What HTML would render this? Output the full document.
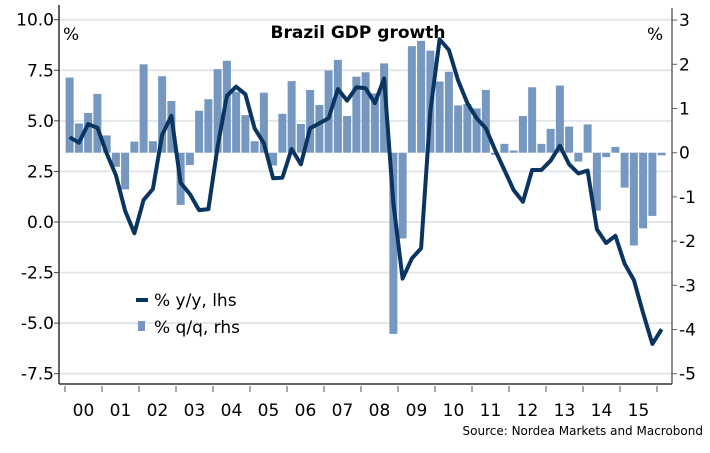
<!DOCTYPE html>
<html><head><meta charset="utf-8">
<style>
body{margin:0;background:#fff;}
svg text{font-family:"DejaVu Sans","Liberation Sans",sans-serif;}
</style></head>
<body>
<svg id="chart" width="710" height="448" viewBox="0 0 710 448" xmlns="http://www.w3.org/2000/svg">
<g id="grid"></g>
<g id="bars"></g>
<g id="axes"></g>
<path id="line" fill="none" stroke="#0b3561" stroke-width="4" stroke-linejoin="round"/>
<text x="358" y="38" font-size="17" font-weight="bold" text-anchor="middle" fill="#000">Brazil GDP growth</text>
<text x="63" y="40" font-size="17" fill="#000">%</text>
<text x="647" y="40" font-size="17" fill="#000">%</text>
<g>
<rect x="136" y="298" width="12" height="4" fill="#0b3561"/>
<text x="154" y="306" font-size="17" fill="#000">% y/y, lhs</text>
<rect x="138" y="321" width="7" height="10" fill="#7697bf"/>
<text x="154" y="333" font-size="17" fill="#000">% q/q, rhs</text>
</g>
<text x="703" y="435" font-size="12" text-anchor="end" fill="#000" font-family="Liberation Sans, sans-serif">Source: Nordea Markets and Macrobond</text>
</svg>
<script>
const years = ["00","01","02","03","04","05","06","07","08","09","10","11","12","13","14","15"];
const leftTicks = ["10.0","7.5","5.0","2.5","0.0","-2.5","-5.0","-7.5"];
const leftTickValues = [10,7.5,5,2.5,0,-2.5,-5,-7.5];
const rightTicks = ["3","2","1","0","-1","-2","-3","-4","-5"];
const rightTickValues = [3,2,1,0,-1,-2,-3,-4,-5];
const qqValues = [1.70,0.66,0.90,1.33, 0.39,-0.32,-0.83,0.25, 2.00,0.26,1.73,1.17, -1.18,-0.28,0.95,1.21,
 1.89,2.08,1.38,0.85, 0.26,1.36,-0.29,0.88, 1.62,0.65,1.42,1.08, 1.86,2.10,0.83,1.72,
 1.82,1.34,2.02,-4.10, -1.94,2.41,2.53,2.31, 1.61,1.83,1.07,1.10, 1.00,1.42,-0.05,0.20,
 0.05,0.83,1.48,0.20, 0.54,1.52,0.59,-0.20, 0.64,-1.31,-0.10,0.13, -0.79,-2.10,-1.71,-1.43, -0.06];
const yyValues = [4.19,3.92,4.84,4.66, 3.40,2.32,0.56,-0.56, 1.09,1.63,4.30,5.25, 1.94,1.38,0.59,0.64,
 3.72,6.24,6.69,6.31, 4.63,3.89,2.16,2.19, 3.61,2.85,4.63,4.88, 5.13,6.57,6.00,6.66,
 6.61,5.87,7.10,0.90, -2.80,-1.80,-1.30,5.50, 9.03,8.50,7.00,5.87, 5.13,4.63,3.56,2.57,
 1.58,1.00,2.57,2.57, 3.03,3.77,2.85,2.40, 2.54,-0.36,-1.04,-0.68, -2.06,-2.87,-4.50,-6.03, -5.30];

const NS="http://www.w3.org/2000/svg";
const X0=59, X1=672, YB=384, yearStart=65, yearW=37.0, qW=yearW/4;
const xQ=i=>yearStart+qW*(i+0.5);
const yL=v=>222-v*20.23;
const yR=v=>152.7-v*44.2;
function mk(tag,attrs,parent){const e=document.createElementNS(NS,tag);for(const k in attrs)e.setAttribute(k,attrs[k]);parent.appendChild(e);return e;}
const grid=document.getElementById('grid'), bars=document.getElementById('bars'), axes=document.getElementById('axes');
leftTickValues.forEach((v,i)=>{
  const g=mk('line',{x1:X0,x2:X1,y1:yL(v),y2:yL(v),stroke:'#e3e6ea','stroke-width':2},grid);
  
  
  const t=mk('line',{x1:X0-5,x2:X0,y1:yL(v),y2:yL(v),stroke:'#444'},axes);
  
  
  const l=mk('text',{x:54,y:yL(v)+6,'font-size':17,'text-anchor':'end',fill:'#000'},axes);
  l.textContent=leftTicks[i];
  
  
});
rightTickValues.forEach((v,i)=>{
  const t=mk('line',{x1:X1,x2:X1+5,y1:yR(v),y2:yR(v),stroke:'#666'},axes);
  
  
  const l=mk('text',{x:679,y:yR(v)+6,'font-size':17,fill:'#000'},axes);
  l.textContent=rightTicks[i];
  
  
});
qqValues.forEach((v,i)=>{
  const y0=yR(0), y1=yR(v);
  const b=mk('rect',{x:xQ(i)-4,y:Math.min(y0,y1),width:8,height:Math.abs(y1-y0),fill:'#7697bf'},bars);
  
  
});
mk('line',{x1:X0,x2:X0,y1:5,y2:YB,stroke:'#333','stroke-width':1.5},axes);
mk('line',{x1:X1,x2:X1,y1:8,y2:YB,stroke:'#666','stroke-width':1.5},axes);
mk('line',{x1:X0,x2:X1,y1:YB,y2:YB,stroke:'#333','stroke-width':1.5},axes);
for(let k=0;k<=years.length;k++){
  const x=yearStart+k*yearW;
  const t=mk('line',{x1:x,x2:x,y1:YB+2,y2:YB+8,stroke:'#555'},axes);
  
  
}
years.forEach((y,k)=>{
  const l=mk('text',{x:yearStart+(k+0.5)*yearW,y:416,'font-size':17,'text-anchor':'middle',fill:'#000'},axes);
  l.textContent=y;
  
  
});
document.getElementById('line').setAttribute('d',yyValues.map((v,i)=>(i?'L':'M')+xQ(i).toFixed(1)+','+yL(v).toFixed(1)).join(''));
</script>
</body></html>
